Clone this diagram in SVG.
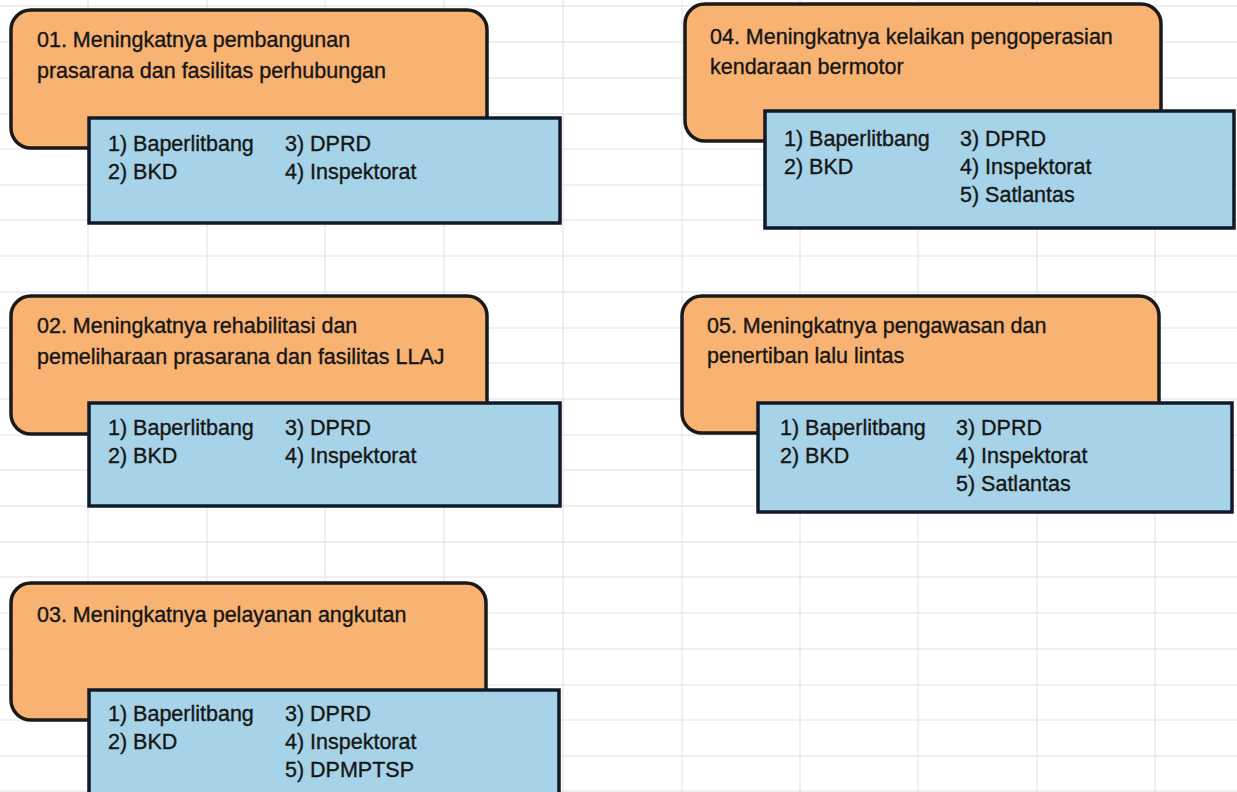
<svg xmlns="http://www.w3.org/2000/svg" width="1237" height="792" viewBox="0 0 1237 792">
  <style>
    .grid line { stroke: #e0e0e0; stroke-width: 1; }
    .goal { fill: #F8B272; stroke: #1a1a1a; stroke-width: 3.5; }
    .actors { fill: #A7D3E8; stroke: #0f1b2b; stroke-width: 3.5; }
    text { font-family: "Liberation Sans", Arial, sans-serif; font-size: 21.5px; fill: #161616; stroke: #161616; stroke-width: 0.35px; }
  </style>
  <rect x="0" y="0" width="1237" height="792" fill="#ffffff"/>
  <g class="grid" id="grid">
    <line x1="88" y1="0" x2="88" y2="792"/>
    <line x1="207" y1="0" x2="207" y2="792"/>
    <line x1="325" y1="0" x2="325" y2="792"/>
    <line x1="444" y1="0" x2="444" y2="792"/>
    <line x1="563" y1="0" x2="563" y2="792"/>
    <line x1="682" y1="0" x2="682" y2="792"/>
    <line x1="800" y1="0" x2="800" y2="792"/>
    <line x1="918" y1="0" x2="918" y2="792"/>
    <line x1="1037" y1="0" x2="1037" y2="792"/>
    <line x1="1155" y1="0" x2="1155" y2="792"/>
    <line x1="0" y1="6" x2="1237" y2="6"/>
    <line x1="0" y1="42" x2="1237" y2="42"/>
    <line x1="0" y1="78" x2="1237" y2="78"/>
    <line x1="0" y1="114" x2="1237" y2="114"/>
    <line x1="0" y1="149" x2="1237" y2="149"/>
    <line x1="0" y1="185" x2="1237" y2="185"/>
    <line x1="0" y1="220" x2="1237" y2="220"/>
    <line x1="0" y1="256" x2="1237" y2="256"/>
    <line x1="0" y1="292" x2="1237" y2="292"/>
    <line x1="0" y1="328" x2="1237" y2="328"/>
    <line x1="0" y1="363" x2="1237" y2="363"/>
    <line x1="0" y1="399" x2="1237" y2="399"/>
    <line x1="0" y1="435" x2="1237" y2="435"/>
    <line x1="0" y1="470" x2="1237" y2="470"/>
    <line x1="0" y1="506" x2="1237" y2="506"/>
    <line x1="0" y1="542" x2="1237" y2="542"/>
    <line x1="0" y1="577" x2="1237" y2="577"/>
    <line x1="0" y1="613" x2="1237" y2="613"/>
    <line x1="0" y1="649" x2="1237" y2="649"/>
    <line x1="0" y1="685" x2="1237" y2="685"/>
    <line x1="0" y1="720" x2="1237" y2="720"/>
    <line x1="0" y1="756" x2="1237" y2="756"/>
    <line x1="0" y1="791" x2="1237" y2="791"/>
  </g>
  <g id="connectors"/>

  <g id="node-01">
    <rect class="goal" x="11" y="10" width="476" height="138" rx="20"/>
    <text x="37" y="47">01. Meningkatnya pembangunan</text>
    <text x="37" y="78">prasarana dan fasilitas perhubungan</text>
    <rect class="actors" x="89" y="118" width="471" height="105"/>
    <text x="108" y="151">1) Baperlitbang</text>
    <text x="108" y="179">2) BKD</text>
    <text x="285" y="151">3) DPRD</text>
    <text x="285" y="179">4) Inspektorat</text>
  </g>

  <g id="node-02">
    <rect class="goal" x="11" y="296" width="476" height="138" rx="20"/>
    <text x="37" y="333">02. Meningkatnya rehabilitasi dan</text>
    <text x="37" y="364">pemeliharaan prasarana dan fasilitas LLAJ</text>
    <rect class="actors" x="89" y="403" width="471" height="103"/>
    <text x="108" y="435">1) Baperlitbang</text>
    <text x="108" y="463">2) BKD</text>
    <text x="285" y="435">3) DPRD</text>
    <text x="285" y="463">4) Inspektorat</text>
  </g>

  <g id="node-03">
    <rect class="goal" x="11" y="583" width="475" height="137" rx="20"/>
    <text x="37" y="622">03. Meningkatnya pelayanan angkutan</text>
    <rect class="actors" x="89" y="690" width="470" height="110"/>
    <text x="108" y="721">1) Baperlitbang</text>
    <text x="108" y="749">2) BKD</text>
    <text x="285" y="721">3) DPRD</text>
    <text x="285" y="749">4) Inspektorat</text>
    <text x="285" y="777">5) DPMPTSP</text>
  </g>

  <g id="node-04">
    <rect class="goal" x="685" y="4" width="476" height="137" rx="20"/>
    <text x="710" y="44">04. Meningkatnya kelaikan pengoperasian</text>
    <text x="710" y="74">kendaraan bermotor</text>
    <rect class="actors" x="765" y="111" width="469" height="117"/>
    <text x="784" y="146">1) Baperlitbang</text>
    <text x="784" y="174">2) BKD</text>
    <text x="960" y="146">3) DPRD</text>
    <text x="960" y="174">4) Inspektorat</text>
    <text x="960" y="202">5) Satlantas</text>
  </g>

  <g id="node-05">
    <rect class="goal" x="682" y="296" width="477" height="137" rx="20"/>
    <text x="707" y="333">05. Meningkatnya pengawasan dan</text>
    <text x="707" y="363">penertiban lalu lintas</text>
    <rect class="actors" x="758" y="403" width="474" height="109"/>
    <text x="780" y="435">1) Baperlitbang</text>
    <text x="780" y="463">2) BKD</text>
    <text x="956" y="435">3) DPRD</text>
    <text x="956" y="463">4) Inspektorat</text>
    <text x="956" y="491">5) Satlantas</text>
  </g>
</svg>
